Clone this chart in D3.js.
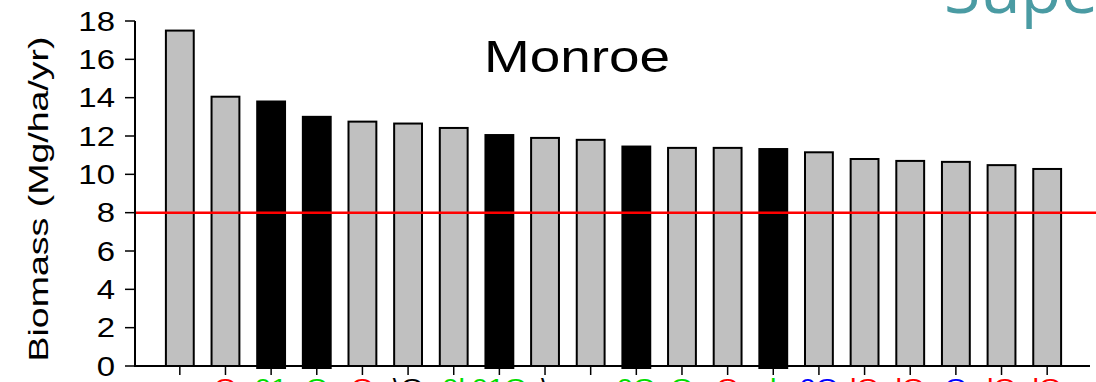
<!DOCTYPE html>
<html>
<head>
<meta charset="utf-8">
<script src="https://cdn.jsdelivr.net/npm/d3@7"></script>
<style>
  html, body { margin: 0; padding: 0; background: #fff; overflow: hidden; }
  svg { display: block; font-family: "Liberation Sans", Arial, sans-serif; }
</style>
</head>
<body>
<div class="container"></div>
<script>
var width = 1096,
    height = 382;

// bar heights (Mg/ha/yr)
var values = [17.5, 14.05, 13.8, 13.0, 12.75, 12.65, 12.42, 12.05, 11.9, 11.8,
              11.45, 11.38, 11.38, 11.32, 11.15, 10.8, 10.7, 10.65, 10.48, 10.28];
// black bars are the highlighted ones
var highlight = [0, 0, 1, 1, 0, 0, 0, 1, 0, 0, 1, 0, 0, 1, 0, 0, 0, 0, 0, 0];
// x labels, cut off at the bottom of the slide; only the tops show
var labels = ['', 'O', '01', 'O', 'O', '\\O', '0l', '01O', '\\', '', '0O', 'O', 'O', 'l', '0O', 'lO', 'lO', 'O', 'lO', 'lO'];
var labelColors = ['#000', '#f00', '#0d0', '#0d0', '#f00', '#000', '#0d0', '#0d0', '#000', '#000',
                   '#0d0', '#0d0', '#f00', '#0d0', '#00f', '#f00', '#f00', '#00f', '#f00', '#f00'];
var yTicks = [0, 2, 4, 6, 8, 10, 12, 14, 16, 18];
var threshold = 8;
var title = 'Monroe';
var yLabel = 'Biomass (Mg/ha/yr)';
var corner = 'Supe';

var stretch = 1.22; // the slide is a little wide

var svg = d3.select('.container').append('svg')
    .attr('width', width)
    .attr('height', height);

var x = d3.scaleBand()
    .domain(d3.range(values.length))
    .range([157, 1070])
    .paddingInner(0.39)
    .paddingOuter(0.195);

var y = d3.scaleLinear()
    .domain([0, 18])
    .range([366, 21]);

var x0 = 135;

// bars
svg.append('g').selectAll('rect')
    .data(values)
    .enter().append('rect')
    .attr('x', (d, i) => x(i))
    .attr('y', (d) => y(d))
    .attr('width', x.bandwidth())
    .attr('height', (d, i) => y(0) - y(d) + (highlight[i] ? 2 : 0))
    .style('fill', (d, i) => highlight[i] ? '#000' : '#c0c0c0')
    .style('stroke', '#000')
    .style('stroke-width', 2);

// threshold line
svg.append('line')
    .attr('x1', x0).attr('x2', width)
    .attr('y1', y(threshold)).attr('y2', y(threshold))
    .style('stroke', '#f00')
    .style('stroke-width', 2.5);

// y axis
var yAxis = svg.append('g');
yAxis.append('line')
    .attr('x1', x0).attr('x2', x0)
    .attr('y1', y(18)).attr('y2', y(0))
    .style('stroke', '#000').style('stroke-width', 2);
yAxis.selectAll('.tick')
    .data(yTicks)
    .enter().append('line')
    .attr('x1', x0 - 10).attr('x2', x0)
    .attr('y1', (d) => y(d)).attr('y2', (d) => y(d))
    .style('stroke', '#000').style('stroke-width', 1.5);
yAxis.selectAll('text')
    .data(yTicks)
    .enter().append('text')
    .attr('transform', (d) => 'translate(115,' + (y(d) + 9.5) + ') scale(' + stretch + ',1)')
    .attr('text-anchor', 'end')
    .style('font-size', '27px')
    .text((d) => d);

// x axis
var xAxis = svg.append('g');
xAxis.append('line')
    .attr('x1', x0 - 1).attr('x2', 1090)
    .attr('y1', y(0)).attr('y2', y(0))
    .style('stroke', '#000').style('stroke-width', 2);
xAxis.selectAll('.tick')
    .data(values)
    .enter().append('line')
    .attr('x1', (d, i) => x(i) + x.bandwidth() / 2)
    .attr('x2', (d, i) => x(i) + x.bandwidth() / 2)
    .attr('y1', y(0)).attr('y2', y(0) + 9)
    .style('stroke', '#000').style('stroke-width', 1.5);
xAxis.selectAll('text')
    .data(labels)
    .enter().append('text')
    .attr('transform', (d, i) => 'translate(' + (x(i) + x.bandwidth() / 2) + ',396) scale(' + stretch + ',1)')
    .attr('text-anchor', 'middle')
    .style('font-size', '24px')
    .style('fill', (d, i) => labelColors[i])
    .text((d) => d);

// y label
svg.append('text')
    .attr('transform', 'translate(48,199) rotate(-90) scale(1,0.76)')
    .attr('text-anchor', 'middle')
    .style('font-size', '37.5px')
    .text(yLabel);

// title
svg.append('text')
    .attr('transform', 'translate(577,72) scale(' + stretch + ',1)')
    .attr('text-anchor', 'middle')
    .style('font-size', '45px')
    .text(title);

// teal heading that runs off the slide
svg.append('text')
    .attr('x', 944)
    .attr('y', 13)
    .style('font-family', '"Open Sans", sans-serif')
    .style('font-size', '66px')
    .style('fill', '#4a9ba3')
    .text(corner);
</script>
</body>
</html>
